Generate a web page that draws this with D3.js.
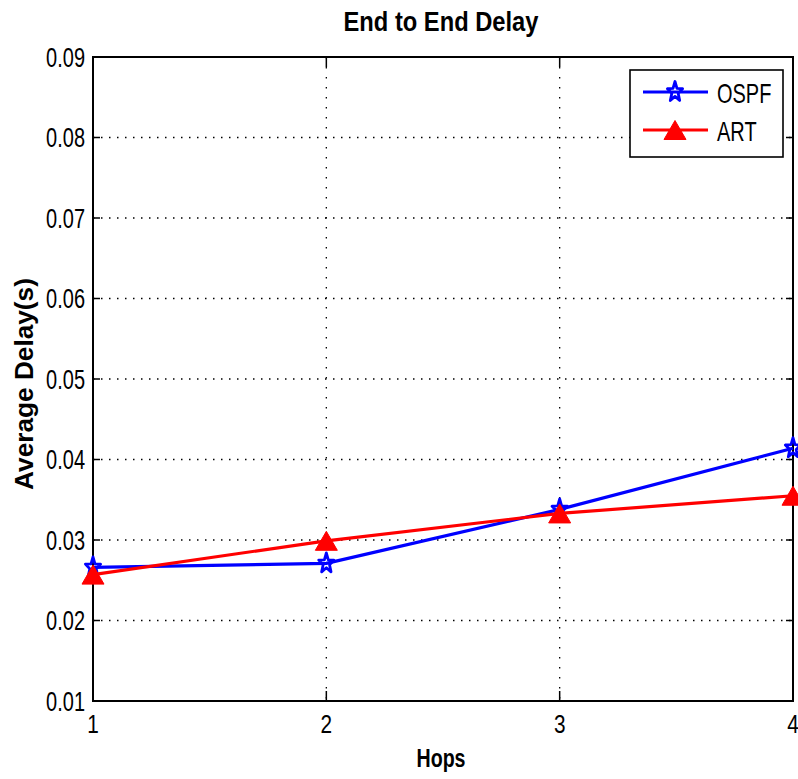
<!DOCTYPE html>
<html>
<head>
<meta charset="utf-8">
<script src="https://cdn.jsdelivr.net/npm/d3@7/dist/d3.min.js"></script>
<style>
  html, body { margin: 0; padding: 0; background: #fff; }
  svg { display: block; }
  text { font-family: "Liberation Sans", Arial, Helvetica, sans-serif; fill: #000; }
</style>
</head>
<body>
<svg id="chart" width="798" height="779"></svg>
<script>
// ---- data ----
const hops = [1, 2, 3, 4];
const ospfDelay = [0.0266, 0.0271, 0.0338, 0.0414];
const artDelay  = [0.0257, 0.0299, 0.0333, 0.0355];
const seriesNames = ["OSPF", "ART"];
const xTicks = [1, 2, 3, 4];
const yTicks = [0.01, 0.02, 0.03, 0.04, 0.05, 0.06, 0.07, 0.08, 0.09];
const titleText = "End to End Delay";
const xLabelText = "Hops";
const yLabelText = "Average Delay(s)";

// ---- layout ----
const L = 93, R = 793, T = 57, B = 701;
const svg = d3.select("#chart");
const x = d3.scaleLinear().domain([1, 4]).range([L, R]);
const y = d3.scaleLinear().domain([0.01, 0.09]).range([B, T]);
const SX = 0.74;

function label(g, str, px, py, opts) {
  const t = g.append("text")
    .text(str)
    .attr("font-size", opts.size)
    .attr("font-weight", opts.bold ? "bold" : "normal")
    .attr("text-anchor", opts.anchor || "start");
  let sx = opts.sx || SX;
  if (opts.width) {
    const len = t.node().getComputedTextLength();
    sx = opts.width / len;
  }
  const rot = opts.rotate ? ` rotate(${opts.rotate})` : "";
  t.attr("transform", `translate(${px},${py})${rot} scale(${sx},1)`);
  return t;
}

// grid
const grid = svg.append("g");
xTicks.filter(v => v > 1 && v < 4).forEach(v => {
  grid.append("line").attr("x1", x(v)).attr("x2", x(v)).attr("y1", T).attr("y2", B)
    .attr("stroke", "#000").attr("stroke-width", 1.3).attr("stroke-dasharray", "1.5,8.5");
});
yTicks.filter(v => v > 0.011 && v < 0.089).forEach(v => {
  grid.append("line").attr("x1", L).attr("x2", R).attr("y1", y(v)).attr("y2", y(v))
    .attr("stroke", "#000").attr("stroke-width", 1.3).attr("stroke-dasharray", "1.5,6.5");
});

// ticks (inside) on all four sides
const tk = svg.append("g").attr("stroke", "#000").attr("stroke-width", 1.5);
yTicks.forEach(v => {
  tk.append("line").attr("x1", L).attr("x2", L + 7).attr("y1", y(v)).attr("y2", y(v));
  tk.append("line").attr("x1", R).attr("x2", R - 7).attr("y1", y(v)).attr("y2", y(v));
});
xTicks.forEach(v => {
  tk.append("line").attr("x1", x(v)).attr("x2", x(v)).attr("y1", B).attr("y2", B - 10);
  tk.append("line").attr("x1", x(v)).attr("x2", x(v)).attr("y1", T).attr("y2", T + 10);
});

// box
svg.append("rect").attr("x", L).attr("y", T).attr("width", R - L).attr("height", B - T)
  .attr("fill", "none").attr("stroke", "#000").attr("stroke-width", 2);

// tick labels
const tl = svg.append("g");
yTicks.forEach(v => label(tl, v.toFixed(2), 85, y(v) + 9.8, { size: 27, anchor: "end" }));
xTicks.forEach(v => label(tl, String(v), x(v), 733, { size: 26, anchor: "middle", sx: 0.8 }));

// titles
label(svg, titleText, 441, 31, { size: 28, bold: true, anchor: "middle", width: 195 });
label(svg, xLabelText, 441, 767, { size: 26, bold: true, anchor: "middle", width: 49 });
label(svg, yLabelText, 33, 384, { size: 25, bold: true, anchor: "middle", rotate: -90, width: 212 });

// markers
function starPath(rx, ry) {
  const pts = [];
  for (let i = 0; i < 10; i++) {
    const r = i % 2 === 0 ? 1 : 0.42;
    const a = -Math.PI / 2 + i * Math.PI / 5;
    pts.push([r * rx * Math.cos(a), r * ry * Math.sin(a)]);
  }
  return "M" + pts.map(p => p[0].toFixed(2) + "," + p[1].toFixed(2)).join("L") + "Z";
}
function triPath(w, h) {
  return `M0,${-h / 2}L${w / 2},${h / 2}L${-w / 2},${h / 2}Z`;
}
const STAR = starPath(8, 10.5);
const TRI = triPath(22, 19);

const line = d3.line().x((d, i) => x(hops[i])).y(d => y(d));

// OSPF
svg.append("path").datum(ospfDelay).attr("d", line)
  .attr("fill", "none").attr("stroke", "#0000ff").attr("stroke-width", 3.2).attr("stroke-linejoin", "round");
svg.append("g").selectAll("path").data(ospfDelay).join("path")
  .attr("d", STAR).attr("transform", (d, i) => `translate(${x(hops[i])},${y(d)})`)
  .attr("fill", "none").attr("stroke", "#0000ff").attr("stroke-width", 2.8).attr("stroke-linejoin", "round");

// ART
svg.append("path").datum(artDelay).attr("d", line)
  .attr("fill", "none").attr("stroke", "#ff0000").attr("stroke-width", 3.2).attr("stroke-linejoin", "round");
svg.append("g").selectAll("path").data(artDelay).join("path")
  .attr("d", TRI).attr("transform", (d, i) => `translate(${x(hops[i])},${y(d)})`)
  .attr("fill", "#ff0000").attr("stroke", "#ff0000").attr("stroke-width", 1);

// legend
const lg = svg.append("g");
lg.append("rect").attr("x", 630).attr("y", 70).attr("width", 153).attr("height", 87)
  .attr("fill", "#fff").attr("stroke", "#000").attr("stroke-width", 1.6);
const legendItems = [
  { name: seriesNames[0], color: "#0000ff", marker: "star", ly: 92 },
  { name: seriesNames[1], color: "#ff0000", marker: "tri", ly: 130 }
];
legendItems.forEach(it => {
  lg.append("line").attr("x1", 643).attr("x2", 708).attr("y1", it.ly).attr("y2", it.ly)
    .attr("stroke", it.color).attr("stroke-width", 3.2);
  if (it.marker === "star") {
    lg.append("path").attr("d", STAR).attr("transform", `translate(675,${it.ly})`)
      .attr("fill", "none").attr("stroke", it.color).attr("stroke-width", 2.8).attr("stroke-linejoin", "round");
  } else {
    lg.append("path").attr("d", TRI).attr("transform", `translate(675,${it.ly})`)
      .attr("fill", it.color).attr("stroke", it.color).attr("stroke-width", 1);
  }
  label(lg, it.name, 717, it.ly + 10.5, { size: 27 });
});
</script>
</body>
</html>
